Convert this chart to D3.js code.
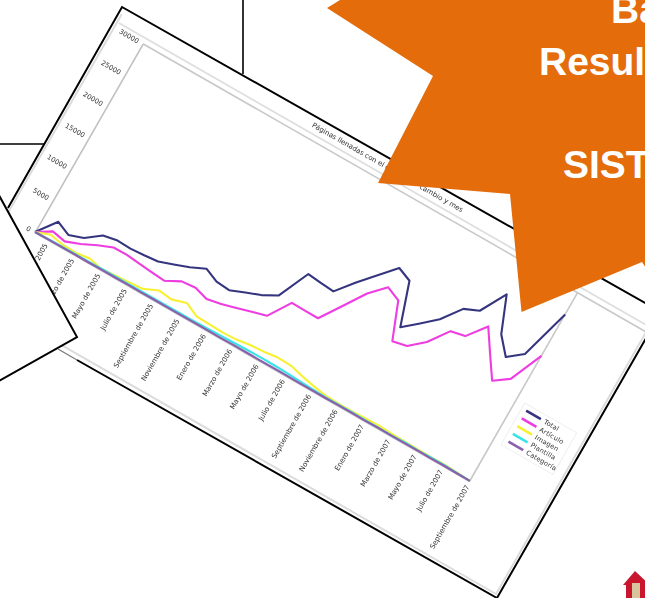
<!DOCTYPE html>
<html lang="es">
<head>
<meta charset="UTF-8">
<title>Páginas llenadas</title>
<script src="https://cdn.jsdelivr.net/npm/d3@7"></script>
<style>
    html, body { margin: 0; padding: 0; background: #fff; overflow: hidden; }
    svg { display: block; }
    .chart text { font-family: "DejaVu Sans", sans-serif; fill: #333; }
    .star text { font-family: "Liberation Sans", Arial, sans-serif; font-weight: bold; fill: #fff; font-size: 39px; }
</style>
</head>
<body>
<svg width="645" height="598"></svg>
<script>
// valores
var months = ["Diciembre de 2004", "Enero de 2005", "Febrero de 2005", "Marzo de 2005", "Abril de 2005", "Mayo de 2005",
    "Junio de 2005", "Julio de 2005", "Agosto de 2005", "Septiembre de 2005", "Octubre de 2005", "Noviembre de 2005",
    "Diciembre de 2005", "Enero de 2006", "Febrero de 2006", "Marzo de 2006", "Abril de 2006", "Mayo de 2006",
    "Junio de 2006", "Julio de 2006", "Agosto de 2006", "Septiembre de 2006", "Octubre de 2006", "Noviembre de 2006",
    "Diciembre de 2006", "Enero de 2007", "Febrero de 2007", "Marzo de 2007", "Abril de 2007", "Mayo de 2007",
    "Junio de 2007", "Julio de 2007", "Agosto de 2007", "Septiembre de 2007"];
var yTicks = [0, 5000, 10000, 15000, 20000, 25000, 30000];

var total = [0, 2830, 1940, 2650, 4240, 4650, 4560, 4710, 4910, 5630, 6400, 7380, 6530, 6350, 7200, 7980, 9110,
    13740, 13530, 13380, 16010, 18350, 20710, 19880, 13670, 15480, 17340, 20210, 21110, 24930, 19760, 17350, 19020, 26540];
var articulo = [0, 1300, 910, 1690, 2700, 3540, 3580, 3370, 3190, 3040, 4150, 4350, 3750, 4150, 4710, 5320, 5880,
    9150, 9110, 9100, 12250, 15440, 17630, 16770, 11450, 11880, 13730, 16660, 17070, 19810, 16650, 13560, 15060, 19940];
var imagen = [0, 760, 370, 300, 590, 120, 280, 430, 570, 1510, 1290, 1920, 980, 900, 840, 930, 1220,
    1370, 1630, 1560, 1050, 650, 320, 250, 260, 340, 390, 300, 250, 220, 200, 230, 140, 0];
var plantilla = [0, 60, 100, 120, 140, 150, 160, 170, 180, 190, 200, 210, 230, 280, 330, 380, 430,
    470, 450, 400, 300, 200, 130, 130, 150, 110, 130, 100, 170, 100, 160, 150, 80, 30];
var categoria = [0, 30, 20, 40, 30, 50, 40, 60, 50, 70, 60, 50, 70, 60, 50, 80, 70,
    60, 80, 70, 50, 60, 40, 70, 60, 50, 80, 60, 50, 70, 40, 60, 30, 10];

var seriesNames = ["Total", "Artículo", "Imagen", "Plantilla", "Categoría"];
var seriesValues = [total, articulo, imagen, plantilla, categoria];
var seriesColors = ["#36367f", "#ee3ce0", "#f8f032", "#38e4e6", "#8a60ac"];

var plotW = 501, plotH = 217;
var svg = d3.select("svg");

svg.append("filter").attr("id", "soft")
    .attr("filterUnits", "userSpaceOnUse")
    .attr("x", 0).attr("y", 0).attr("width", 645).attr("height", 598)
    .append("feGaussianBlur").attr("stdDeviation", 0.75);

// lineas de las otras hojas que quedan detras
svg.append("path").attr("d", "M0,144H45M243,0V74")
    .attr("fill", "none").attr("stroke", "#000").attr("stroke-width", 1.6);

// marco de la captura
svg.append("path").attr("d", "M77,360L497,598L661,312L122,7L-5,230Z")
    .attr("fill", "#fff").attr("stroke", "none");
svg.append("path").attr("d", "M77,360L497,598L661,312L122,7L8,208")
    .attr("fill", "none").attr("stroke", "#000").attr("stroke-width", 2);

var soft = svg.append("g").attr("class", "chart").attr("filter", "url(#soft)");
var chart = soft.append("g").attr("transform", "translate(35,232) rotate(29.8)");

// borde claro y banda del titulo
chart.append("path").attr("d", "M-33,-232V85H580V-232")
    .attr("fill", "none").attr("stroke", "#dcdcdc").attr("stroke-width", 2);
chart.append("line").attr("x1", -31).attr("x2", 580).attr("y1", -223).attr("y2", -223)
    .attr("stroke", "#dedede").attr("stroke-width", 1.8);

var x = d3.scalePoint().domain(months).range([0, plotW]);
var y = d3.scaleLinear().domain([0, 30000]).range([0, -plotH]);

chart.append("text").attr("x", 274).attr("y", -229)
    .attr("text-anchor", "middle").attr("font-size", 7)
    .text("Páginas llenadas con el estado por cambio y mes");

// ejes
var yAxis = d3.axisLeft(y).tickValues(yTicks).tickSize(0).tickPadding(5).tickFormat(d3.format("d"));
var yG = chart.append("g").call(yAxis);
var xAxis = d3.axisBottom(x).tickValues(months.filter(function (d, i) { return i % 2 == 1; })).tickSize(0);
var xG = chart.append("g").call(xAxis);

yG.selectAll("text").attr("font-size", 6.8);
xG.selectAll("text")
    .attr("font-size", 7.1)
    .attr("text-anchor", "end")
    .attr("transform", "rotate(-90)")
    .attr("x", -5).attr("y", 0).attr("dy", "0.32em");
yG.select(".domain").attr("stroke", "#c0c0c0").attr("stroke-width", 1.6);
xG.select(".domain").attr("stroke", "#c0c0c0").attr("stroke-width", 1.6);

chart.append("line").attr("x1", 0).attr("x2", plotW + 79).attr("y1", y(30000)).attr("y2", y(30000))
    .attr("stroke", "#c8c8c8").attr("stroke-width", 1.6);
chart.append("line").attr("x1", plotW).attr("x2", plotW).attr("y1", 0).attr("y2", y(30000))
    .attr("stroke", "#c8c8c8").attr("stroke-width", 1.6);

// series
var line = d3.line()
    .x(function (d, i) { return x(months[i]); })
    .y(function (d) { return y(d); });

chart.selectAll("path.serie")
    .data(seriesValues)
    .enter()
    .append("path")
    .attr("class", "serie")
    .attr("d", line)
    .attr("fill", "none")
    .attr("stroke", function (d, i) { return seriesColors[i]; })
    .attr("stroke-width", 2.1)
    .attr("stroke-linejoin", "round");

// leyenda
var legend = chart.append("g").attr("transform", "translate(" + (plotW + 14) + "," + (y(30000) + 128) + ")");
legend.append("rect").attr("x", -5).attr("y", -6).attr("width", 60).attr("height", 48)
    .attr("fill", "none").attr("stroke", "#f0f0f0");
var row = legend.selectAll("g")
    .data(seriesNames)
    .enter()
    .append("g")
    .attr("transform", function (d, i) { return "translate(0," + (i * 8.9) + ")"; });
row.append("line").attr("x1", 0).attr("x2", 17)
    .attr("stroke", function (d, i) { return seriesColors[i]; })
    .attr("stroke-width", 2.6);
row.append("text").attr("x", 21).attr("dy", "0.35em").attr("font-size", 6.6)
    .attr("letter-spacing", 0.2)
    .text(function (d) { return d; });

// bocadillo blanco de la izquierda
svg.append("path").attr("d", "M-10,179L77,337L-10,386Z")
    .attr("fill", "#fff").attr("stroke", "#000").attr("stroke-width", 2);
svg.append("path").attr("d", "M58,349L77,360")
    .attr("stroke", "#777").attr("stroke-width", 1.2);

// estrella naranja
var star = svg.append("g").attr("class", "star");
star.append("path")
    .attr("d", "M340,0L327,8L433,76L378,183L510,194L521.5,312L642,262L646,268L646,0Z")
    .attr("fill", "#e46c0a");
star.append("text").attr("x", 611).attr("y", 23).text("Ba");
star.append("text").attr("x", 539).attr("y", 75).text("Resul");
star.append("text").attr("x", 563).attr("y", 178).text("SIST");

// icono de la esquina
var icon = svg.append("g").attr("filter", "url(#soft)");
icon.append("path").attr("d", "M623,585L635,571L650,585V600H626V585Z").attr("fill", "#c8142e");
icon.append("rect").attr("x", 632).attr("y", 583).attr("width", 8).attr("height", 15).attr("fill", "#d9c59c");
</script>
</body>
</html>
